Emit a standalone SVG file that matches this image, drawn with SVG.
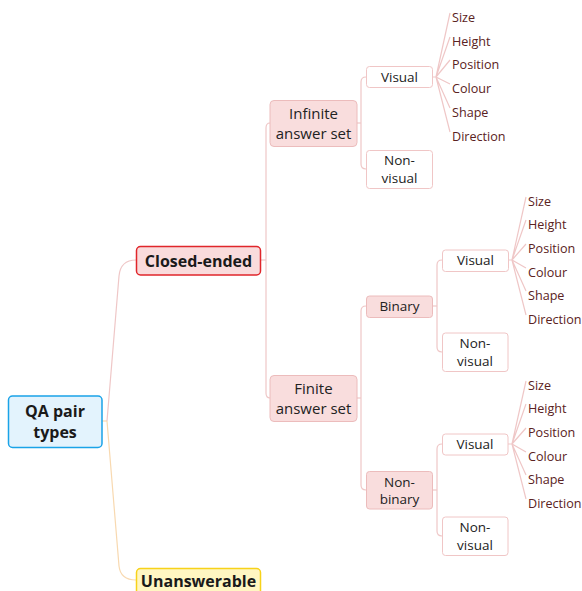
<svg xmlns="http://www.w3.org/2000/svg" width="582" height="591" viewBox="0 0 582 591">
<style>
text{font-family:"Open Sans","Noto Sans",sans-serif;text-anchor:middle;dominant-baseline:central}
.b{font-weight:bold;font-size:16px;fill:#1a1a1a}
.m{font-size:15px;fill:#222}
.s{font-size:13.5px;fill:#222}
.leaf{font-size:12.6px;fill:#5a2222;text-anchor:start}
.l3{fill:#f9dddd;stroke:#ecbcbc;stroke-width:1}
.l4{fill:#fff;stroke:#f0c6c6;stroke-width:1}
.c{fill:none;stroke:#efc7c7;stroke-width:1.2}
.cy{fill:none;stroke:#f8d9b0;stroke-width:1.2}
</style>
<rect width="582" height="591" fill="#fff"/>
<g id="connectors">
<path class="cy" d="M102,421 H107"/>
<path class="c" d="M107,421 L119,276 Q120.5,260 136,260"/>
<path class="cy" d="M107,421 L119,566 Q120.5,580 136,580"/>
<path class="c" d="M261,260 H266"/>
<path class="c" d="M270,123 Q266,123 266,128 V393 Q266,398 270,398"/>
<path class="c" d="M357,123 H361"/>
<path class="c" d="M366,77 Q361,77 361,82 V164 Q361,169 366,169"/>
<path class="c" d="M357,398 H361"/>
<path class="c" d="M366,306 Q361,306 361,311 V485 Q361,490 366,490"/>
<path class="c" d="M432,306 H437"/>
<path class="c" d="M442,260 Q437,260 437,265 V347 Q437,352 442,352"/>
<path class="c" d="M432,490 H437"/>
<path class="c" d="M442,444 Q437,444 437,449 V531 Q437,536 442,536"/>
<path class="c" d="M432,77 H436 M436,77 L450,13 M436,77 L450,37 M436,77 L450,60 M436,77 L450,84 M436,77 L450,108 M436,77 L450,132"/>
<path class="c" d="M508,260 H512 M512,260 L526,197 M512,260 L526,220 M512,260 L526,244 M512,260 L526,268 M512,260 L526,291 M512,260 L526,315"/>
<path class="c" d="M508,444 H512 M512,444 L526,381 M512,444 L526,404 M512,444 L526,428 M512,444 L526,452 M512,444 L526,475 M512,444 L526,499"/>
</g>
<g id="root"><rect x="8.5" y="396" width="93.5" height="51.5" rx="4" fill="#e3f3fd" stroke="#1aa3e8" stroke-width="1.5"/><text class="b" x="55" y="411">QA pair</text><text class="b" x="55" y="432">types</text></g>
<g id="closed"><rect x="136.5" y="246.5" width="124" height="28.5" rx="4" fill="#f9dbdc" stroke="#e0262b" stroke-width="1.5"/><text class="b" x="198.5" y="260.5">Closed-ended</text></g>
<g id="unanswerable"><rect x="136.5" y="568.5" width="124" height="30" rx="4" fill="#fff6c2" stroke="#f7d21a" stroke-width="1.5"/><text class="b" x="198.5" y="580.5">Unanswerable</text></g>
<g id="infinite"><rect class="l3" x="270" y="100.5" width="87" height="46" rx="4"/><text class="m" x="313.5" y="112.5">Infinite</text><text class="m" x="313.5" y="132.5">answer set</text></g>
<g id="finite"><rect class="l3" x="270" y="375.5" width="87" height="46" rx="4"/><text class="m" x="313.5" y="387.5">Finite</text><text class="m" x="313.5" y="407.5">answer set</text></g>
<g id="inf-visual"><rect class="l4" x="366.5" y="66.5" width="66" height="21" rx="3"/><text class="s" x="399.5" y="76.5">Visual</text></g>
<g id="inf-nonvisual"><rect class="l4" x="366.5" y="150.5" width="66" height="38" rx="3"/><text class="s" x="399.5" y="160">Non-</text><text class="s" x="399.5" y="178">visual</text></g>
<g id="binary"><rect class="l3" x="366.5" y="296" width="66" height="21.5" rx="3"/><text class="s" x="399.5" y="306">Binary</text></g>
<g id="nonbinary"><rect class="l3" x="366.5" y="471.5" width="66" height="37.5" rx="3"/><text class="s" x="399.5" y="481.5">Non-</text><text class="s" x="399.5" y="498.5">binary</text></g>
<g id="bin-visual"><rect class="l4" x="442.5" y="250" width="66" height="21.5" rx="3"/><text class="s" x="475.5" y="260">Visual</text></g>
<g id="bin-nonvisual"><rect class="l4" x="442.5" y="333" width="65.5" height="38.5" rx="3"/><text class="s" x="475" y="343">Non-</text><text class="s" x="475" y="361">visual</text></g>
<g id="nb-visual"><rect class="l4" x="442.5" y="434" width="65.5" height="21" rx="3"/><text class="s" x="475" y="444">Visual</text></g>
<g id="nb-nonvisual"><rect class="l4" x="442.5" y="517" width="65.5" height="38.5" rx="3"/><text class="s" x="475" y="527">Non-</text><text class="s" x="475" y="545">visual</text></g>
<g id="leaves-1"><text class="leaf" x="452" y="17">Size</text><text class="leaf" x="452" y="41">Height</text><text class="leaf" x="452" y="64">Position</text><text class="leaf" x="452" y="88">Colour</text><text class="leaf" x="452" y="112">Shape</text><text class="leaf" x="452" y="136">Direction</text></g>
<g id="leaves-2"><text class="leaf" x="528" y="201">Size</text><text class="leaf" x="528" y="224">Height</text><text class="leaf" x="528" y="248">Position</text><text class="leaf" x="528" y="272">Colour</text><text class="leaf" x="528" y="295">Shape</text><text class="leaf" x="528" y="319">Direction</text></g>
<g id="leaves-3"><text class="leaf" x="528" y="385">Size</text><text class="leaf" x="528" y="408">Height</text><text class="leaf" x="528" y="432">Position</text><text class="leaf" x="528" y="456">Colour</text><text class="leaf" x="528" y="479">Shape</text><text class="leaf" x="528" y="503">Direction</text></g>
</svg>
